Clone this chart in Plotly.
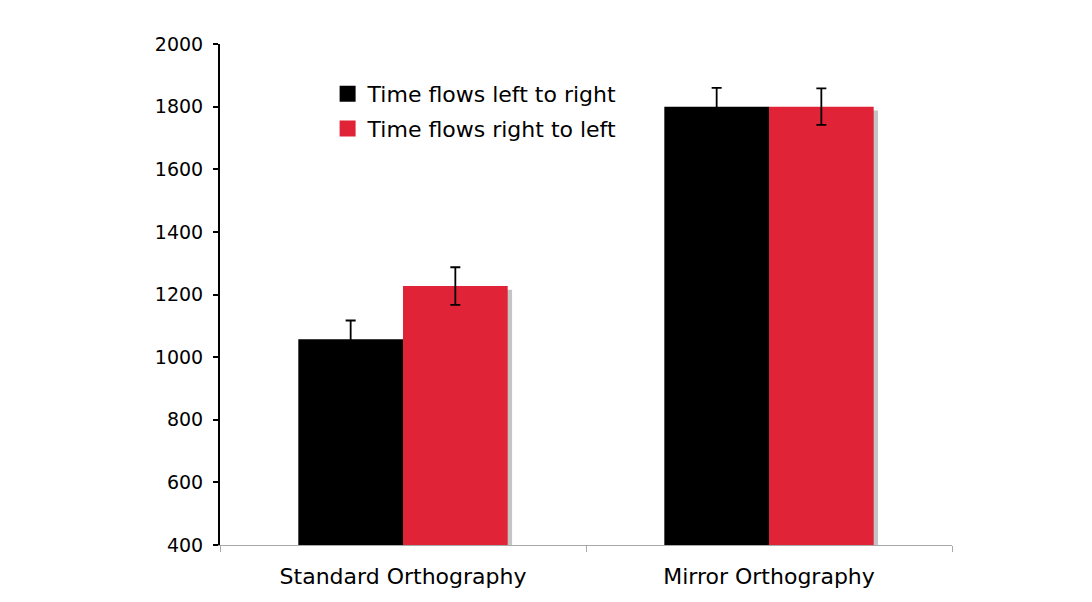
import plotly.graph_objects as go

# Response times by orthography and time-flow direction
categories = ["Standard Orthography", "Mirror Orthography"]
series_names = ["Time flows left to right", "Time flows right to left"]
left_to_right = [1057, 1800]
left_to_right_err = [60, 60]
right_to_left = [1227, 1800]
right_to_left_err = [60, 58]
y_ticks = [400, 600, 800, 1000, 1200, 1400, 1600, 1800, 2000]

BLACK = "#000000"
RED = "#E02336"
SHADOW = "#C4C4C4"
FONT = "DejaVu Sans"
BAR_W = 0.286

fig = go.Figure()

# soft drop shadows behind each bar
for vals, off in [(left_to_right, -BAR_W), (right_to_left, 0.0)]:
    fig.add_trace(go.Bar(
        x=categories, y=[v - 12 for v in vals], width=BAR_W, offset=off + 0.012,
        marker=dict(color=SHADOW, line=dict(width=0)),
        showlegend=False, hoverinfo="skip",
    ))

fig.add_trace(go.Bar(
    x=categories, y=left_to_right, width=BAR_W, offset=-BAR_W,
    marker=dict(color=BLACK, line=dict(width=0)),
    error_y=dict(type="data", array=left_to_right_err, color=BLACK, thickness=1.8, width=5),
    showlegend=False,
))
fig.add_trace(go.Bar(
    x=categories, y=right_to_left, width=BAR_W, offset=0.0,
    marker=dict(color=RED, line=dict(width=0)),
    error_y=dict(type="data", array=right_to_left_err, color=BLACK, thickness=1.8, width=5),
    showlegend=False,
))

# legend entries with square swatches
for name, col, grp in [(series_names[0], BLACK, "a"), (series_names[1], RED, "b")]:
    fig.add_trace(go.Scatter(
        x=[None], y=[None], mode="markers", name=name, legendgroup=grp,
        marker=dict(symbol="square", size=16, color=col),
    ))

fig.update_layout(
    width=1092, height=602,
    margin=dict(l=220, r=140, t=44, b=57),
    paper_bgcolor="white", plot_bgcolor="white",
    barmode="overlay",
    font=dict(family=FONT, size=22, color="black"),
    showlegend=True,
    legend=dict(
        x=0.147, y=0.942, xanchor="left", yanchor="top",
        bgcolor="rgba(0,0,0,0)", font=dict(size=22, family=FONT),
        traceorder="grouped", tracegroupgap=3, itemsizing="trace",
    ),
    xaxis=dict(
        type="category", range=[-0.5, 1.5],
        showline=True, linecolor="#A8A8A8", linewidth=1,
        ticks="outside", ticklen=6, tickcolor="#A8A8A8", tickwidth=1,
        tickson="boundaries", showgrid=False, zeroline=False,
        tickfont=dict(size=22, family=FONT), ticklabelstandoff=12,
    ),
    yaxis=dict(
        range=[400, 2000], tickvals=y_ticks,
        showline=True, linecolor="black", linewidth=2,
        ticks="outside", ticklen=5, tickcolor="black", tickwidth=2,
        showgrid=False, zeroline=False,
        tickfont=dict(size=19, family=FONT), ticklabelstandoff=6,
    ),
)

fig.write_html("out.html")
